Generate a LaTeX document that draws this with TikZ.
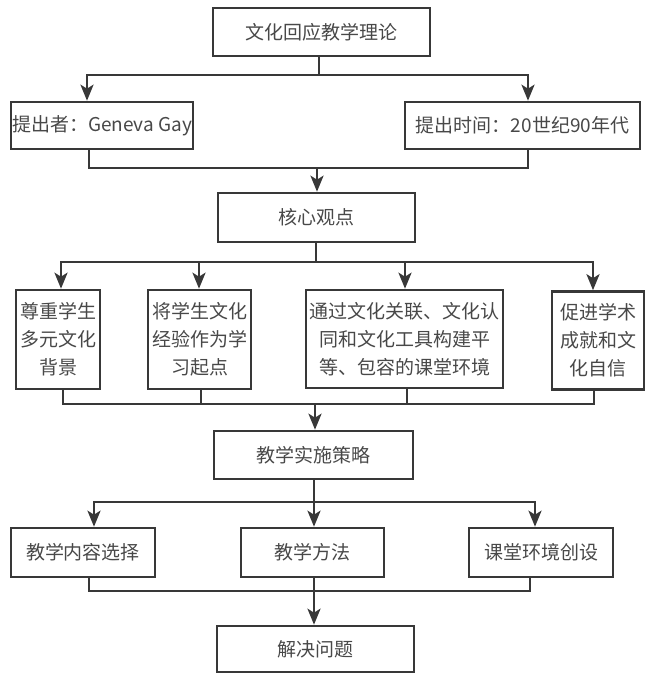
\documentclass[tikz,border=0pt]{standalone}
\usepackage{fontspec}
\setmainfont{Noto Sans CJK SC}
\usetikzlibrary{arrows.meta}
\definecolor{ink}{HTML}{383838}
\definecolor{txt}{HTML}{484848}
\tikzset{
  box/.style={draw=ink, line width=2.6pt, inner sep=0pt, align=center, text=txt,
    font=\fontsize{19}{28}\selectfont},
  ln/.style={draw=ink, line width=2.6pt},
  arr/.style={ln, -{Stealth[length=16pt,width=13pt,inset=4pt]}}
}
\begin{document}
\begin{tikzpicture}[x=1pt,y=-1pt]
\useasboundingbox (0,0) rectangle (648,675);
% nodes
\node[box, minimum width=217pt, minimum height=48pt] (A) at (321.5,32) {文化回应教学理论};
\node[box, minimum width=182pt, minimum height=47pt] (B) at (102,125.5) {提出者：Geneva Gay};
\node[box, minimum width=235pt, minimum height=47pt] (C) at (522.5,125.5) {提出时间：20世纪90年代};
\node[box, minimum width=197pt, minimum height=49pt] (D) at (316.5,217.5) {核心观点};
\node[box, minimum width=84pt, minimum height=99pt] (E1) at (58,339.5) {尊重学生\\多元文化\\背景};
\node[box, minimum width=103pt, minimum height=99pt] (E2) at (199.5,339.5) {将学生文化\\经验作为学\\习起点};
\node[box, minimum width=197pt, minimum height=98pt] (E3) at (404.5,339) {通过文化关联、文化认\\同和文化工具构建平\\等、包容的课堂环境};
\node[box, minimum width=92pt, minimum height=98pt] (E4) at (598,340.5) {促进学术\\成就和文\\化自信};
\node[box, minimum width=199pt, minimum height=48pt] (F) at (313.5,455) {教学实施策略};
\node[box, minimum width=144pt, minimum height=49pt] (G1) at (83,552.5) {教学内容选择};
\node[box, minimum width=143pt, minimum height=49pt] (G2) at (312.5,552.5) {教学方法};
\node[box, minimum width=144pt, minimum height=49pt] (G3) at (541,552.5) {课堂环境创设};
\node[box, minimum width=197pt, minimum height=46pt] (H) at (315.5,649) {解决问题};
% bus coordinates
\coordinate (b1) at (319,75);
\coordinate (b2) at (317,168);
\coordinate (b3) at (316,262);
\coordinate (b4) at (315,404);
\coordinate (b5) at (314,502);
\coordinate (b6) at (314,591);
% A -> B, C
\draw[ln] (A.south -| b1) -- (b1);
\draw[arr] (b1) -| ([xshift=-15pt]B.north);
\draw[arr] (b1) -| ([xshift=5.5pt]C.north);
% B, C -> D
\draw[ln] ([xshift=-13pt]B.south) |- (b2);
\draw[ln] ([xshift=5.5pt]C.south) |- (b2);
\draw[arr] (b2) -- (D.north -| b2);
% D -> E
\draw[ln] (D.south -| b3) -- (b3);
\draw[arr] (b3) -| ([xshift=3pt]E1.north);
\draw[arr] (b3) -| ([xshift=-0.5pt]E2.north);
\draw[arr] (b3) -| ([xshift=0.5pt]E3.north);
\draw[arr] (b3) -| ([xshift=-5pt]E4.north);
% E -> F
\draw[ln] ([xshift=5pt]E1.south) |- (b4);
\draw[ln] ([xshift=1.5pt]E2.south) |- (b4);
\draw[ln] ([xshift=2.5pt]E3.south) |- (b4);
\draw[ln] ([xshift=-4pt]E4.south) |- (b4);
\draw[arr] (b4) -- (F.north -| b4);
% F -> G
\draw[ln] (F.south -| b5) -- (b5);
\draw[arr] (b5) -| ([xshift=11pt]G1.north);
\draw[arr] (b5) -- (G2.north -| b5);
\draw[arr] (b5) -| ([xshift=-6pt]G3.north);
% G -> H
\draw[ln] ([xshift=6pt]G1.south) |- (b6);
\draw[ln] (G2.south -| b6) -- (b6);
\draw[ln] ([xshift=-11pt]G3.south) |- (b6);
\draw[arr] (b6) -- (H.north -| b6);
\end{tikzpicture}
\end{document}
